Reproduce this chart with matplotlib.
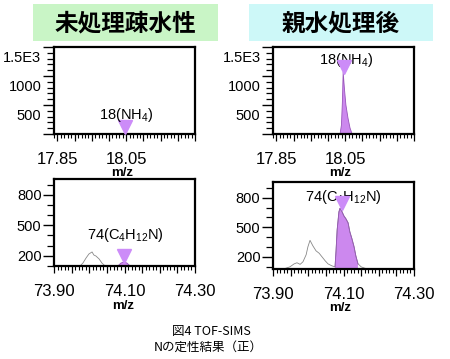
import numpy as np
import matplotlib
matplotlib.use("Agg")
import matplotlib.pyplot as plt
from matplotlib.patches import Rectangle
from matplotlib.ticker import MultipleLocator, FixedLocator, FixedFormatter
from matplotlib.transforms import ScaledTranslation

plt.rcParams['font.family'] = ['Liberation Sans', 'DejaVu Sans']
plt.rcParams['mathtext.fontset'] = 'custom'
plt.rcParams['mathtext.rm'] = 'Liberation Sans'
plt.rcParams['mathtext.it'] = 'Liberation Sans'
plt.rcParams['mathtext.default'] = 'rm'

# ---- data ----
titles = ["未処理疎水性", "親水処理後"]
caption = ["図4 TOF-SIMS", "Nの定性結果（正）"]

top_xticks = [17.85, 18.05]
bot_xticks = [73.90, 74.10, 74.30]
top_yticks = [500, 1000, 1500]
top_yticklabels = ["500", "1000", "1.5E3"]
bot_yticks = [200, 500, 800]
bot_yticklabels = ["200", "500", "800"]

# top-right (hydrophilic) NH4 peak
tr_x = [18.035, 18.039, 18.042, 18.044, 18.048, 18.052, 18.058, 18.064, 18.070]
tr_y = [0, 155, 586, 1070, 760, 500, 276, 103, 0]

# bottom-left (untreated) spectrum
bl_x = [73.974, 73.982, 73.991, 73.999, 74.008, 74.013, 74.019, 74.028, 74.036, 74.045]
bl_y = [100, 129, 179, 218, 238, 208, 198, 169, 129, 100]
bl_peak_x = [74.081, 74.090, 74.098, 74.107, 74.116]
bl_peak_y = [100, 129, 139, 129, 100]

# bottom-right (hydrophilic) spectrum
br_x = [73.930, 73.948, 73.960, 73.968, 73.977, 73.985, 73.994, 73.999, 74.005, 74.013,
        74.022, 74.031, 74.039, 74.048, 74.056, 74.067, 74.076, 74.079, 74.082, 74.087,
        74.090, 74.096, 74.101, 74.107, 74.113, 74.118, 74.124, 74.130, 74.135, 74.141,
        74.150, 74.161, 74.175]
br_y = [78, 100, 130, 141, 125, 151, 222, 302, 368, 313,
        262, 237, 201, 161, 130, 110, 100, 272, 474, 656,
        692, 656, 616, 585, 545, 454, 383, 302, 211, 131,
        100, 85, 78]
br_fill_range = (74.076, 74.145)

# marker / label positions (m/z, intensity)
tl_mark = (18.047, 120); tl_label = (18.049, 330)
tr_mark = (18.045, 1155); tr_label = (18.052, 1275)
bl_mark = (74.098, 198); bl_label = (74.103, 405)
br_mark = (74.096, 745); br_label = (74.099, 805)

nh4 = "18(NH$_4$)"
c4 = "74(C$_4$H$_{12}$N)"

PURPLE = '#cc88ee'
PURPLE_EDGE = '#9955bb'
TRI = '#cc8cf8'

W, H = 450, 359
fig = plt.figure(figsize=(W / 100, H / 100), dpi=100)


def fr(x0, y0, x1, y1):
    return [x0 / W, 1 - y1 / H, (x1 - x0) / W, (y1 - y0) / H]


def style(ax, top):
    for s in ax.spines.values():
        s.set_linewidth(1.6)
    ax.tick_params(axis='y', which='major', direction='out', length=8, width=1.0, labelsize=10.5, pad=1)
    ax.tick_params(axis='y', which='minor', direction='out', length=5, width=0.9)
    ax.tick_params(axis='x', which='major', direction='out', length=5, width=0.9, labelsize=12, pad=8)
    ax.tick_params(axis='x', which='minor', direction='out', length=3, width=0.8)
    if top:
        ax.set_xlim(17.84, 18.25)
        ax.set_ylim(0, 1500)
        ax.xaxis.set_major_locator(MultipleLocator(0.05))
        ax.xaxis.set_minor_locator(MultipleLocator(0.01))
        ax.xaxis.set_major_formatter(
            matplotlib.ticker.FuncFormatter(lambda v, p: f"{v:.2f}" if any(abs(v - t) < 1e-6 for t in top_xticks) else ""))
        ax.yaxis.set_major_locator(FixedLocator([0] + top_yticks))
        ax.yaxis.set_major_formatter(FixedFormatter([""] + top_yticklabels))
        ax.yaxis.set_minor_locator(MultipleLocator(100))
        off = ScaledTranslation(0, -6.5 / 72, fig.dpi_scale_trans)
        for lab in ax.get_yticklabels():
            lab.set_transform(lab.get_transform() + off)
    else:
        ax.set_xlim(73.90, 74.30)
        ax.xaxis.set_major_locator(MultipleLocator(0.05))
        ax.xaxis.set_minor_locator(MultipleLocator(0.01))
        ax.xaxis.set_major_formatter(
            matplotlib.ticker.FuncFormatter(lambda v, p: f"{v:.2f}" if any(abs(v - t) < 1e-6 for t in bot_xticks) else ""))
        ax.yaxis.set_major_locator(FixedLocator(bot_yticks))
        ax.yaxis.set_major_formatter(FixedFormatter(bot_yticklabels))
        ax.yaxis.set_minor_locator(MultipleLocator(100))


# title boxes
fig.patches.append(Rectangle((33 / W, 1 - 41 / H), 185 / W, 37 / H, transform=fig.transFigure,
                             facecolor='#c9f5c6', edgecolor='none', zorder=0))
fig.patches.append(Rectangle((249 / W, 1 - 41 / H), 184 / W, 37 / H, transform=fig.transFigure,
                             facecolor='#cdf8f8', edgecolor='none', zorder=0))
fig.text(125 / W, 1 - 23 / H, titles[0], ha='center', va='center', fontsize=17, fontweight='bold',
         family=['Noto Sans CJK JP'])
fig.text(341 / W, 1 - 23 / H, titles[1], ha='center', va='center', fontsize=17, fontweight='bold',
         family=['Noto Sans CJK JP'])

ax_tl = fig.add_axes(fr(54, 47, 195, 134))
ax_tr = fig.add_axes(fr(273, 47, 414, 134))
ax_bl = fig.add_axes(fr(54, 179, 195, 266))
ax_br = fig.add_axes(fr(273, 182, 414, 269))

# top-left
style(ax_tl, True)
ax_tl.plot([tl_mark[0]], [tl_mark[1]], marker='v', color=TRI, markersize=10, ls='none', zorder=3)
ax_tl.text(tl_label[0], tl_label[1], nh4, ha='center', va='center', fontsize=10.5)

# top-right
style(ax_tr, True)
ax_tr.fill(tr_x, tr_y, facecolor=PURPLE, edgecolor=PURPLE_EDGE, lw=0.6)
ax_tr.text(tr_label[0], tr_label[1], nh4, ha='center', va='center', fontsize=10.5)
ax_tr.plot([tr_mark[0]], [tr_mark[1]], marker='v', color=TRI, markersize=10, ls='none', zorder=3)

# bottom-left
style(ax_bl, False)
ax_bl.set_ylim(100, 955)
ax_bl.plot(bl_x, bl_y, color='#888888', lw=0.6)
ax_bl.fill(bl_peak_x, bl_peak_y, facecolor=PURPLE, edgecolor=PURPLE_EDGE, lw=0.6)
ax_bl.plot([bl_mark[0]], [bl_mark[1]], marker='v', color=TRI, markersize=10, ls='none', zorder=3)
ax_bl.text(bl_label[0], bl_label[1], c4, ha='center', va='center', fontsize=10.5)

# bottom-right
style(ax_br, False)
ax_br.set_ylim(78, 958)
bx = np.array(br_x); by = np.array(br_y)
ax_br.plot(bx, by, color='#888888', lw=0.6)
m = (bx >= br_fill_range[0]) & (bx <= br_fill_range[1])
ax_br.fill_between(bx, 78, by, where=m, facecolor=PURPLE, edgecolor='none')
ax_br.plot(bx[m], by[m], color=PURPLE_EDGE, lw=0.6)
ax_br.text(br_label[0], br_label[1], c4, ha='center', va='center', fontsize=10.5)
ax_br.plot([br_mark[0]], [br_mark[1]], marker='v', color=TRI, markersize=10, ls='none', zorder=3)

# m/z labels
for (x, y) in [(122, 173), (340, 173), (123, 306), (340, 308)]:
    fig.text(x / W, 1 - y / H, "m/z", ha='center', va='center', fontsize=9.5, fontweight='bold')

# caption
fig.text(211 / W, 1 - 332 / H, caption[0], ha='center', va='center', fontsize=9,
         family=['Noto Sans CJK JP', 'DejaVu Sans'])
fig.text(208 / W, 1 - 347 / H, caption[1], ha='center', va='center', fontsize=9,
         family=['Noto Sans CJK JP', 'DejaVu Sans'])

fig.savefig("out.png", dpi=100)
